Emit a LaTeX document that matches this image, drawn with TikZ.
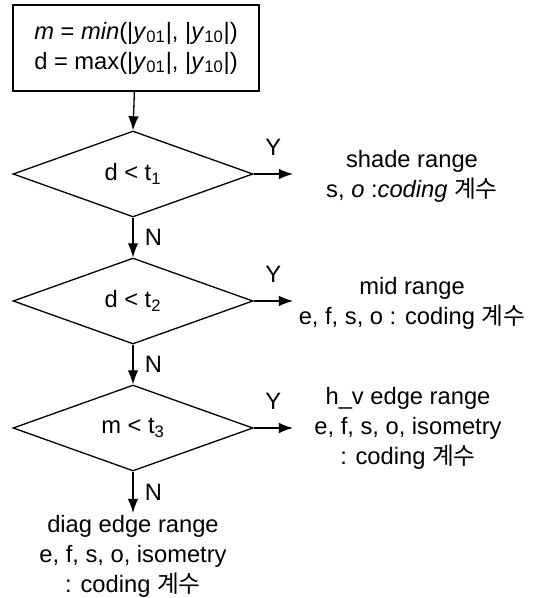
\documentclass[tikz,border=0pt]{standalone}
\usepackage{fontspec}
\setmainfont{Liberation Sans}
\newfontfamily\krfont{Noto Sans CJK KR}
\usetikzlibrary{shapes.geometric,arrows.meta}
\newcommand{\gyesu}{{\krfont 계수}}
\tikzset{
  decision/.style={diamond, draw, line width=0.75pt, aspect=2.8,
    minimum width=4.8cm, minimum height=1.72cm, inner sep=0pt},
  initbox/.style={rectangle, draw, line width=0.75pt, align=center,
    minimum width=4.92cm, minimum height=1.72cm},
  result/.style={align=center, inner sep=1pt},
  flow/.style={-{Latex[length=8pt,width=6pt]}, line width=0.75pt},
}
\begin{document}
\begin{tikzpicture}[x=0.02cm, y=-0.02cm, font=\fontsize{13.5}{17}\selectfont]
  \useasboundingbox (0,0) rectangle (535,598);
  % start: the two magnitudes
  \node[initbox] (init) at (136,48)
    {\textit{m} = \textit{min}(|\textit{y}\textsubscript{01}|, |\textit{y}\textsubscript{10}|)\\
     d = max(|\textit{y}\textsubscript{01}|, |\textit{y}\textsubscript{10}|)};
  % the three tests
  \node[decision] (d1) at (133,174) {d < t\textsubscript{1}};
  \node[decision] (d2) at (133,301) {d < t\textsubscript{2}};
  \node[decision] (d3) at (133,428) {m < t\textsubscript{3}};
  % outcomes
  \node[result] (shade) at (412,176)
    {shade range\\ s, \textit{o} :\textit{coding} \gyesu};
  \node[result] (mid) at (412,303)
    {mid range\\ e, f, s, o : coding \gyesu};
  \node[result] (hv) at (408,428)
    {h\_v edge range\\ e, f, s, o, isometry\\ : coding \gyesu};
  \node[result, anchor=north] (diag) at (133,513)
    {diag edge range\\ e, f, s, o, isometry\\ : coding \gyesu};
  \coordinate (y1) at (293,174);
  \coordinate (y2) at (293,301);
  \coordinate (y3) at (293,428);
  % connectors
  \draw[flow] (init) -- (d1.north);
  \draw[flow] (d1.south) -- (d2.north) node[midway, right, xshift=3pt] {N};
  \draw[flow] (d2.south) -- (d3.north) node[midway, right, xshift=3pt] {N};
  \draw[flow] (d3.south) -- (diag.north) node[midway, right, xshift=3pt] {N};
  \draw[flow] (d1.east) -- (y1) node[midway, above=7pt] {Y};
  \draw[flow] (d2.east) -- (y2) node[midway, above=7pt] {Y};
  \draw[flow] (d3.east) -- (y3) node[midway, above=7pt] {Y};
\end{tikzpicture}
\end{document}
